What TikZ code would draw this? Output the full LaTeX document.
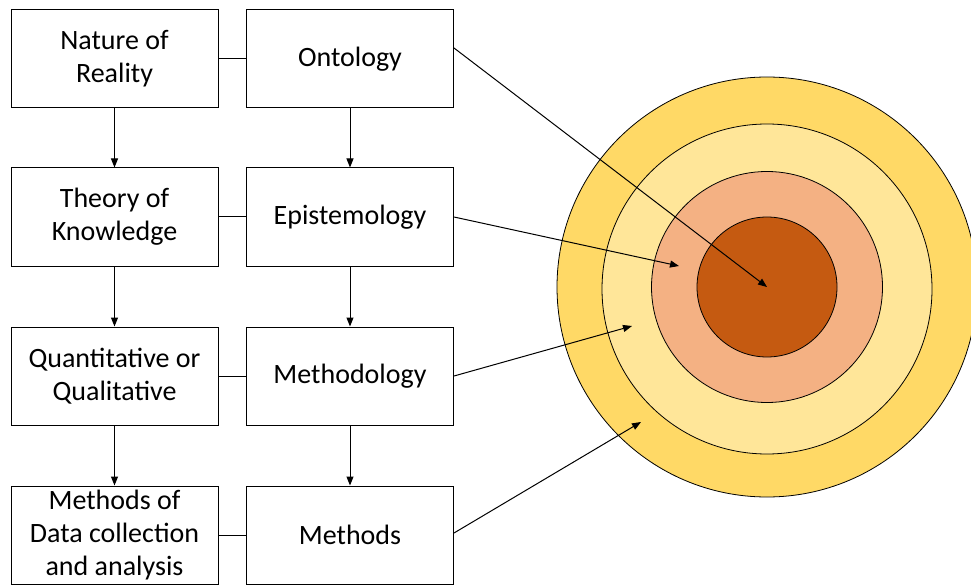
\documentclass[tikz,border=0pt]{standalone}
\usepackage{fontspec}
\setmainfont{Carlito}
\usetikzlibrary{arrows.meta}

\definecolor{ringout}{RGB}{255,217,102}
\definecolor{ringtwo}{RGB}{255,230,153}
\definecolor{ringthree}{RGB}{244,177,131}
\definecolor{ringcore}{RGB}{197,90,17}

\begin{document}
\begin{tikzpicture}[x=1pt,y=-1pt,>={Triangle[length=9pt,width=7pt]},
  box/.style={draw,line width=1pt,minimum width=207pt,minimum height=98pt,
    align=center,inner sep=0pt,font=\fontsize{28}{33}\selectfont},
  ring/.style={draw,line width=0.8pt}]
\clip (0,0) rectangle (971,585);
% target rings
\filldraw[ring,fill=ringout] (767,287) circle (210pt);
\filldraw[ring,fill=ringtwo] (767,289) circle (165pt);
\filldraw[ring,fill=ringthree] (767,287) circle (115.5pt);
\filldraw[ring,fill=ringcore] (767,287) circle (70pt);
\coordinate (core) at (767,287);
\coordinate (tipthree) at (679,266);
\coordinate (tiptwo) at (632,326);
\coordinate (tipout) at (641,422);
% boxes
\node[box] (nature) at (114.5,59) {Nature of\\Reality};
\node[box] (theory) at (114.5,217) {Theory of\\Knowledge};
\node[box] (quant) at (114.5,376) {Quantitative or\\Qualitative};
\node[box] (datacol) at (114.5,535) {Methods of\\Data collection\\and analysis};
\node[box] (onto) at (350,59) {Ontology};
\node[box] (episte) at (350,217) {Epistemology};
\node[box] (methodo) at (350,376) {Methodology};
\node[box] (meth) at (350,535) {Methods};
% links
\draw[line width=1pt] (nature) -- (onto);
\draw[line width=1pt] (theory) -- (episte);
\draw[line width=1pt] (quant) -- (methodo);
\draw[line width=1pt] (datacol) -- (meth);
\draw[->,line width=1pt] (nature) -- (theory);
\draw[->,line width=1pt] (theory) -- (quant);
\draw[->,line width=1pt] (quant) -- (datacol);
\draw[->,line width=1pt] (onto) -- (episte);
\draw[->,line width=1pt] (episte) -- (methodo);
\draw[->,line width=1pt] (methodo) -- (meth);
% pointers into the rings
\draw[->,line width=1pt] ([yshift=11pt]onto.east) -- (core);
\draw[->,line width=1pt] (episte.east) -- (tipthree);
\draw[->,line width=1pt] (methodo.east) -- (tiptwo);
\draw[->,line width=1pt] ([yshift=2pt]meth.east) -- (tipout);
\end{tikzpicture}
\end{document}
